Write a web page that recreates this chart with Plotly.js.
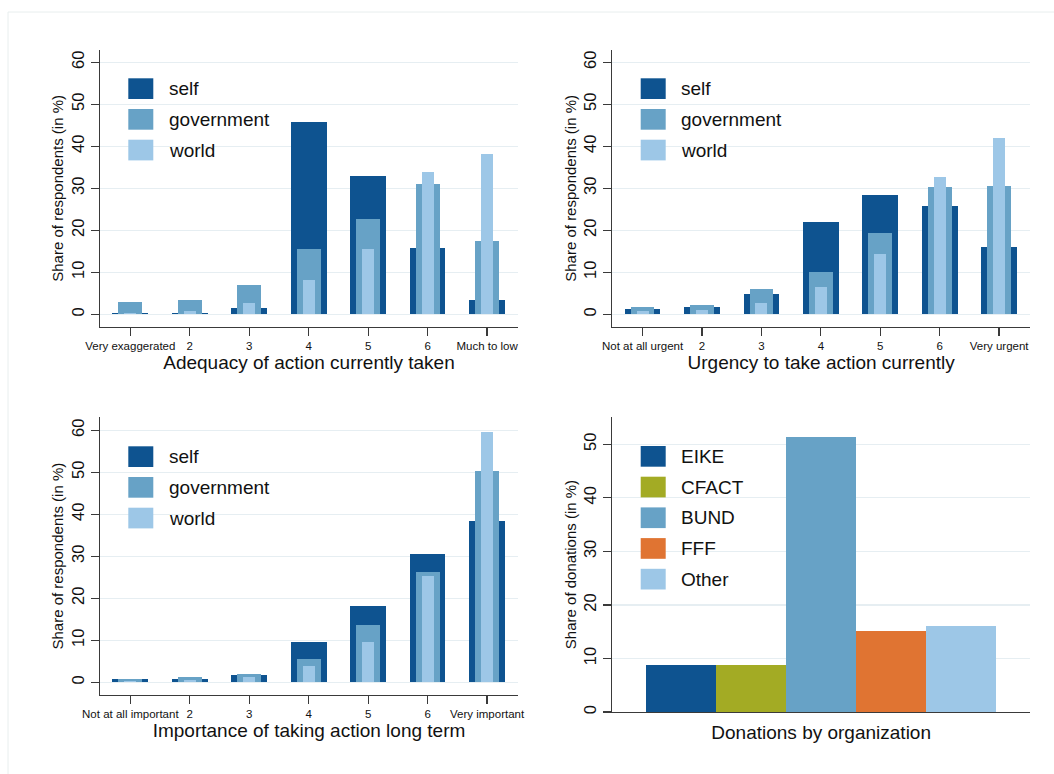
<!DOCTYPE html>
<html>
<head>
<meta charset="utf-8">
<script src="https://cdn.plot.ly/plotly-3.0.1.min.js"></script>
<style>
  html, body { margin: 0; padding: 0; background: #ffffff; }
  #chart { width: 1054px; height: 774px; }
</style>
</head>
<body>
<div id="chart"></div>
<script>
// ---------------- data ----------------
const levels = [1, 2, 3, 4, 5, 6, 7];
const adequacyLabels = ['Very exaggerated', '2', '3', '4', '5', '6', 'Much to low'];
const urgencyLabels = ['Not at all urgent', '2', '3', '4', '5', '6', 'Very urgent'];
const importanceLabels = ['Not at all important', '2', '3', '4', '5', '6', 'Very important'];

const seriesNames = ['self', 'government', 'world'];

const adequacySelf  = [0.4, 0.4, 1.5, 45.8, 33.0, 15.7, 3.3];
const adequacyGov   = [2.9, 3.3, 6.9, 15.6, 22.8, 31.0, 17.5];
const adequacyWorld = [0.4, 0.7, 2.7, 8.2, 15.6, 34.0, 38.2];

const urgencySelf  = [1.3, 1.8, 4.8, 21.9, 28.4, 25.8, 16.0];
const urgencyGov   = [1.8, 2.2, 6.0, 10.0, 19.4, 30.2, 30.5];
const urgencyWorld = [0.9, 1.0, 2.7, 6.6, 14.4, 32.7, 41.9];

const importanceSelf  = [0.8, 0.8, 1.8, 9.5, 18.2, 30.5, 38.3];
const importanceGov   = [0.7, 1.2, 2.1, 5.6, 13.6, 26.3, 50.2];
const importanceWorld = [0.4, 0.5, 1.3, 3.9, 9.7, 25.2, 59.5];

const organizations = ['EIKE', 'CFACT', 'BUND', 'FFF', 'Other'];
const orgPositions = [1, 2, 3, 4, 5];
const donationShares = [8.85, 8.7, 51.3, 15.1, 16.0];

const yTicksResp = [0, 10, 20, 30, 40, 50, 60];
const yTicksDon = [0, 10, 20, 30, 40, 50];

// ---------------- styles ----------------
const W = 1054, H = 774;
const px = x => x / W;
const py = y => 1 - y / H;
const FONT = 'Liberation Sans, Arial, Helvetica, sans-serif';
const seriesColors = ['#0e5390', '#67a2c6', '#9dc7e7'];
const seriesWidths = [0.6, 0.4, 0.2];
const orgColors = ['#0e5390', '#a3ab24', '#67a2c6', '#e07432', '#9dc7e7'];
const gridColor = '#e6eef2';
const axisColor = '#3a3a3a';

function groupTraces(vals, xa, ya) {
  return vals.map((v, i) => ({
    type: 'bar', x: levels, y: v, width: seriesWidths[i],
    name: seriesNames[i], xaxis: xa, yaxis: ya, showlegend: false,
    marker: { color: seriesColors[i], line: { width: 0 } },
    hoverinfo: 'x+y+name'
  }));
}

const data = [
  ...groupTraces([adequacySelf, adequacyGov, adequacyWorld], 'x', 'y'),
  ...groupTraces([urgencySelf, urgencyGov, urgencyWorld], 'x2', 'y2'),
  ...groupTraces([importanceSelf, importanceGov, importanceWorld], 'x3', 'y3'),
  {
    type: 'bar', x: orgPositions, y: donationShares, width: 1,
    xaxis: 'x4', yaxis: 'y4', showlegend: false, text: organizations,
    hoverinfo: 'text+y', textposition: 'none',
    marker: { color: orgColors, line: { width: 0 } }
  }
];

function xAxis(domain, labels, title) {
  return {
    domain: domain, range: [0.49, 7.52],
    tickmode: 'array', tickvals: levels, ticktext: labels,
    ticks: 'outside', ticklen: 8, tickwidth: 1.2, tickcolor: axisColor,
    showline: true, linecolor: axisColor, linewidth: 1.3,
    showgrid: false, zeroline: false, fixedrange: true,
    tickfont: { family: FONT, size: 11.5, color: '#111' },
    title: { text: title, font: { family: FONT, size: 19, color: '#111' }, standoff: 4 }
  };
}
function yAxis(domain, range, ticks, title) {
  return {
    domain: domain, range: range,
    tickmode: 'array', tickvals: ticks, tickangle: -90,
    ticks: 'outside', ticklen: 8, tickwidth: 1.2, tickcolor: axisColor,
    showline: true, linecolor: axisColor, linewidth: 1.3,
    showgrid: true, gridcolor: gridColor, gridwidth: 1.2, zeroline: false, fixedrange: true,
    tickfont: { family: FONT, size: 16.5, color: '#111' },
    title: { text: title, font: { family: FONT, size: 15, color: '#111' }, standoff: 1 }
  };
}

const layout = {
  width: W, height: H,
  margin: { l: 0, r: 0, t: 0, b: 0 },
  paper_bgcolor: '#ffffff', plot_bgcolor: 'rgba(0,0,0,0)',
  barmode: 'overlay', bargap: 0,
  showlegend: false,
  xaxis:  Object.assign(xAxis([px(100), px(518)], adequacyLabels, 'Adequacy of action currently taken'), { anchor: 'y' }),
  yaxis:  Object.assign(yAxis([py(326.7), py(50)], [-2.952, 62.93], yTicksResp, 'Share of respondents (in %)'), { anchor: 'x' }),
  xaxis2: Object.assign(xAxis([px(612.3), px(1030)], urgencyLabels, 'Urgency to take action currently'), { anchor: 'y2' }),
  yaxis2: Object.assign(yAxis([py(326.7), py(50)], [-2.952, 62.93], yTicksResp, 'Share of respondents (in %)'), { anchor: 'x2' }),
  xaxis3: Object.assign(xAxis([px(100), px(518)], importanceLabels, 'Importance of taking action long term'), { anchor: 'y3' }),
  yaxis3: Object.assign(yAxis([py(695), py(417.3)], [-3.02, 63.1], yTicksResp, 'Share of respondents (in %)'), { anchor: 'x3' }),
  xaxis4: Object.assign(xAxis([px(612.3), px(1030)], organizations, 'Donations by organization'),
            { anchor: 'y4', range: [0.016, 5.986], showticklabels: false, ticks: '', tickvals: orgPositions }),
  yaxis4: Object.assign(yAxis([py(712), py(417)], [0, 55.1], yTicksDon, 'Share of donations (in %)'), { anchor: 'x4' }),
  shapes: [],
  annotations: []
};
layout.xaxis4.title = { text: 'Donations by organization', font: { family: FONT, size: 19, color: '#111' }, standoff: 13 };

// outer frame
layout.shapes.push({ type: 'rect', xref: 'paper', yref: 'paper', x0: px(8), x1: 1.02, y0: -0.02, y1: py(12),
  line: { color: '#e8eeee', width: 1 }, fillcolor: 'rgba(0,0,0,0)', layer: 'below' });

// custom legends (inside plot, white box, large swatches)
function addLegend(names, colors, boxX0, boxX1, boxY0, boxY1, swX, textX, firstTop) {
  layout.shapes.push({ type: 'rect', xref: 'paper', yref: 'paper',
    x0: px(boxX0), x1: px(boxX1), y0: py(boxY1), y1: py(boxY0),
    line: { width: 0 }, fillcolor: '#ffffff', layer: 'between' });
  names.forEach((n, i) => {
    const top = firstTop + i * 30.7;
    layout.shapes.push({ type: 'rect', xref: 'paper', yref: 'paper',
      x0: px(swX), x1: px(swX + 25), y0: py(top + 20.7), y1: py(top),
      line: { width: 0 }, fillcolor: colors[i], layer: 'above' });
    layout.annotations.push({ xref: 'paper', yref: 'paper', x: px(textX), y: py(top + 10.35),
      xanchor: 'left', yanchor: 'middle', showarrow: false, text: n,
      font: { family: FONT, size: 19, color: '#111' } });
  });
}
addLegend(seriesNames, seriesColors, 120.4, 288.7, 68, 170, 128.3, 166.5, 78.3);
addLegend(seriesNames, seriesColors, 632.7, 801, 68, 170, 640.7, 679, 78.3);
addLegend(seriesNames, seriesColors, 120.4, 288, 436, 538, 128.3, 166.5, 446.3);
addLegend(organizations, orgColors, 632.7, 758, 436, 600, 640.7, 679, 446);

Plotly.newPlot('chart', data, layout, { displayModeBar: false, staticPlot: true });
</script>
</body>
</html>
